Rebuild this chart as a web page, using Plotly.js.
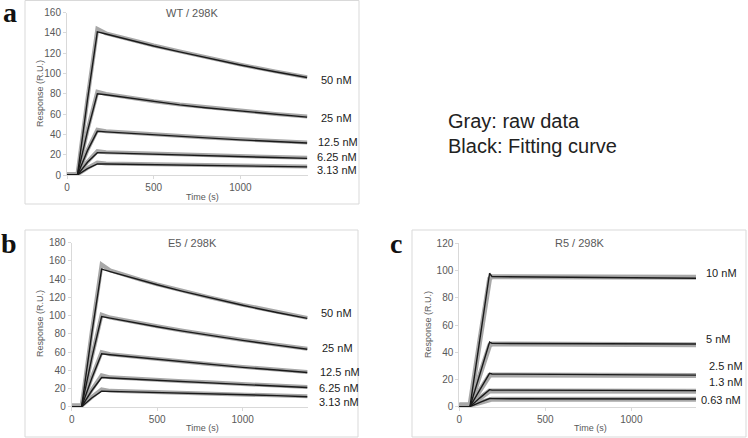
<!DOCTYPE html>
<html>
<head>
<meta charset="utf-8">
<script src="https://cdn.plot.ly/plotly-3.0.1.min.js"></script>
<style>
  html, body { margin: 0; padding: 0; background: #fff; }
  #chart { width: 748px; height: 438px; }
</style>
</head>
<body>
<div id="chart"></div>
<script>
// ---- data ----
// WT / 298K
var tWT = [0, 60, 118, 175, 225, 300, 400, 500, 650, 800, 1000, 1200, 1385];
var wtLabels = ["50 nM", "25 nM", "12.5 nM", "6.25 nM", "3.13 nM"];
var wtRaw = [
  [0.5, 0.5, 75, 144, 139.5, 136, 131.6, 127.5, 121.7, 116, 108.7, 102, 96.3],
  [0.5, 0.5, 44, 82, 79.8, 77.8, 75.1, 72.7, 69.5, 66.7, 63.3, 60.1, 57.5],
  [0.5, 0.5, 24.5, 44.5, 43.1, 42.2, 40.9, 39.8, 38.2, 36.8, 35.1, 33.5, 32],
  [0.5, 0.5, 13, 23.5, 22.3, 21.9, 21.3, 20.8, 20.1, 19.4, 18.5, 17.7, 16.9],
  [0.5, 0.5, 6.8, 12.3, 11.4, 11.2, 10.9, 10.6, 10.2, 9.8, 9.4, 8.9, 8.4]
];
var wtFit = [
  [0, 0, 74, 141, 138.8, 135.4, 131.1, 127, 121.2, 115.6, 108.3, 101.6, 96],
  [0, 0, 43, 80, 79, 77.3, 74.6, 72.2, 69, 66.2, 62.8, 59.6, 57],
  [0, 0, 24, 43, 42.5, 41.7, 40.4, 39.3, 37.7, 36.3, 34.6, 33, 31.5],
  [0, 0, 12.5, 22, 21.8, 21.4, 20.8, 20.3, 19.6, 18.9, 18, 17.2, 16.4],
  [0, 0, 6.3, 11, 10.9, 10.7, 10.4, 10.1, 9.7, 9.35, 8.9, 8.45, 8]
];

// E5 / 298K
var tE5 = [0, 58, 117, 175, 225, 300, 400, 500, 650, 800, 1000, 1200, 1378];
var e5Labels = ["50 nM", "25 nM", "12.5 nM", "6.25 nM", "3.13 nM"];
var e5Raw = [
  [1, 1, 82, 156, 149.5, 145, 139.5, 134.3, 127, 120.3, 111.8, 103.9, 97.5],
  [1, 1, 54, 101, 97.8, 95, 91.5, 88.2, 83.4, 78.9, 73.3, 68.1, 63.5],
  [1, 1, 32, 60, 57.6, 56.1, 54.1, 52.2, 49.5, 46.9, 43.7, 40.7, 38],
  [1, 1, 18.5, 34.5, 32.2, 31.3, 30.3, 29.4, 28, 26.7, 25, 23.1, 21.5],
  [1, 1, 10.5, 19, 17.4, 17, 16.6, 16.1, 15.5, 14.8, 13.9, 12.7, 11.4]
];
var e5Fit = [
  [0, 0, 80, 151, 148.2, 144.1, 138.9, 133.8, 126.6, 119.8, 111.3, 103.4, 97],
  [0, 0, 53, 99, 97.2, 94.5, 91, 87.7, 82.9, 78.4, 72.8, 67.6, 63],
  [0, 0, 31, 58, 57, 55.6, 53.6, 51.7, 49, 46.4, 43.2, 40.2, 37.5],
  [0, 0, 17.5, 32, 31.5, 30.8, 29.8, 28.9, 27.5, 26.2, 24.5, 22.6, 21],
  [0, 0, 9.5, 17, 16.8, 16.5, 16.1, 15.6, 15, 14.3, 13.4, 12.2, 11]
];

// R5 / 298K
var tR5 = [0, 62, 120, 176, 190, 500, 800, 1100, 1376];
var r5Labels = ["10 nM", "5 nM", "2.5 nM", "1.3 nM", "0.63 nM"];
var r5Raw = [
  [1, 1, 49, 94, 95.5, 95.5, 95.3, 95.2, 95],
  [1, 1, 23.5, 45, 46, 46, 45.8, 45.6, 45.5],
  [1, 1, 12, 23, 23.3, 23.2, 23, 23, 22.9],
  [1, 1, 6.3, 11.5, 11.5, 11.4, 11.4, 11.4, 11.3],
  [1, 1, 3, 4.5, 5.5, 5.5, 5.5, 5.4, 5.4]
];
var r5Fit = [
  [0, 0, 50, 98, 95.5, 95.3, 95.1, 94.8, 94.3],
  [0, 0, 24, 47.5, 46.5, 46.4, 46.3, 46.2, 46],
  [0, 0, 12.5, 24.5, 24, 23.8, 23.6, 23.4, 23.2],
  [0, 0, 6.5, 12.5, 12.2, 12.1, 12, 11.9, 11.8],
  [0, 0, 3.2, 6, 5.9, 5.9, 5.8, 5.7, 5.7]
];

// ---- helpers: pixel -> paper coords ----
var W = 748, H = 438;
function px(x) { return x / W; }
function py(y) { return 1 - y / H; }

var FONT = "Liberation Sans, Arial, sans-serif";
var GRAY = "#a8a8a8";
var traces = [];

function addPanel(t, raw, fit, xa, ya, grayWidth) {
  raw.forEach(function (ys) {
    traces.push({ x: t, y: ys, xaxis: xa, yaxis: ya, mode: "lines",
      line: { color: GRAY, width: grayWidth }, hoverinfo: "skip" });
  });
  fit.forEach(function (ys) {
    traces.push({ x: t, y: ys, xaxis: xa, yaxis: ya, mode: "lines",
      line: { color: "#1a1a1a", width: 1.4 }, hoverinfo: "skip" });
  });
}
addPanel(tWT, wtRaw, wtFit, "x", "y", 4);
addPanel(tE5, e5Raw, e5Fit, "x2", "y2", 4);
addPanel(tR5, r5Raw, r5Fit, "x3", "y3", 5);

function xAxis(domain, maxT, anchor) {
  return { domain: domain, range: [0, maxT], anchor: anchor,
    tickvals: [0, 500, 1000], showgrid: false, zeroline: false,
    showline: true, linecolor: "#d9d9d9", linewidth: 1,
    ticks: "outside", ticklen: 3, tickcolor: "#d9d9d9",
    tickfont: { family: FONT, size: 10, color: "#595959" } };
}
function yAxis(domain, maxY, anchor) {
  return { domain: domain, range: [0, maxY], anchor: anchor, dtick: 20,
    showgrid: false, zeroline: false,
    showline: true, linecolor: "#d9d9d9", linewidth: 1,
    ticks: "outside", ticklen: 3, tickcolor: "#d9d9d9",
    tickfont: { family: FONT, size: 10, color: "#595959" } };
}

var annotations = [];
function txt(x, y, s, opts) {
  var a = { xref: "paper", yref: "paper", x: px(x), y: py(y), text: s,
    showarrow: false, xanchor: "center", yanchor: "middle",
    font: { family: FONT, size: 9, color: "#595959" } };
  for (var k in opts) a[k] = opts[k];
  annotations.push(a);
}

// panel letters
var letterFont = { family: "Liberation Serif, serif", size: 28, color: "#111" };
txt(10, 12, "<b>a</b>", { font: letterFont, borderpad: 0 });
txt(9, 243, "<b>b</b>", { font: letterFont, borderpad: 0 });
txt(396, 243, "<b>c</b>", { font: letterFont, borderpad: 0 });

// titles
var titleFont = { family: FONT, size: 11, color: "#595959" };
txt(192, 13, "WT / 298K", { font: titleFont });
txt(192, 243, "E5 / 298K", { font: titleFont });
txt(580, 243, "R5 / 298K", { font: titleFont });

// axis titles
txt(40, 94, "Response (R.U.)", { textangle: -90 });
txt(40, 324, "Response (R.U.)", { textangle: -90 });
txt(428, 324, "Response (R.U.)", { textangle: -90 });
txt(202, 197, "Time (s)");
txt(202, 428, "Time (s)");
txt(590, 428, "Time (s)");

// concentration labels
var concFont = { family: FONT, size: 11, color: "#222" };
var wtPos = [[319, 80], [319, 118], [316, 142], [315, 157], [315, 170]];
var e5Pos = [[319, 313], [320, 348], [318, 372], [317, 388], [317, 402]];
var r5Pos = [[704, 273], [704, 339], [707, 366], [707, 382], [699, 400]];
wtLabels.forEach(function (s, i) { txt(wtPos[i][0], wtPos[i][1], s, { xanchor: "left", font: concFont }); });
e5Labels.forEach(function (s, i) { txt(e5Pos[i][0], e5Pos[i][1], s, { xanchor: "left", font: concFont }); });
r5Labels.forEach(function (s, i) { txt(r5Pos[i][0], r5Pos[i][1], s, { xanchor: "left", font: concFont }); });

// legend note
var noteFont = { family: FONT, size: 20, color: "#222" };
txt(446, 121, "Gray: raw data", { xanchor: "left", font: noteFont });
txt(446, 146, "Black: Fitting curve", { xanchor: "left", font: noteFont });

// frames
function frame(x0, y0, x1, y1) {
  return { type: "rect", xref: "paper", yref: "paper",
    x0: px(x0), x1: px(x1), y0: py(y1), y1: py(y0),
    line: { color: "#d9d9d9", width: 1 }, fillcolor: "rgba(0,0,0,0)", layer: "below" };
}

var layout = {
  width: W, height: H,
  margin: { l: 0, r: 0, t: 0, b: 0 },
  paper_bgcolor: "#fff", plot_bgcolor: "rgba(0,0,0,0)",
  showlegend: false,
  xaxis: xAxis([px(67), px(308)], 1390, "y"),
  yaxis: yAxis([py(175), py(12.5)], 160, "x"),
  xaxis2: xAxis([px(71.7), px(308)], 1382, "y2"),
  yaxis2: yAxis([py(406.7), py(242.7)], 180, "x2"),
  xaxis3: xAxis([px(459.3), px(696)], 1376, "y3"),
  yaxis3: yAxis([py(406.7), py(243.3)], 120, "x3"),
  annotations: annotations,
  shapes: [frame(25, 0.5, 359, 204), frame(25, 230, 358, 437), frame(412, 230, 746, 437)]
};

Plotly.newPlot("chart", traces, layout, { staticPlot: true });
</script>
</body>
</html>
